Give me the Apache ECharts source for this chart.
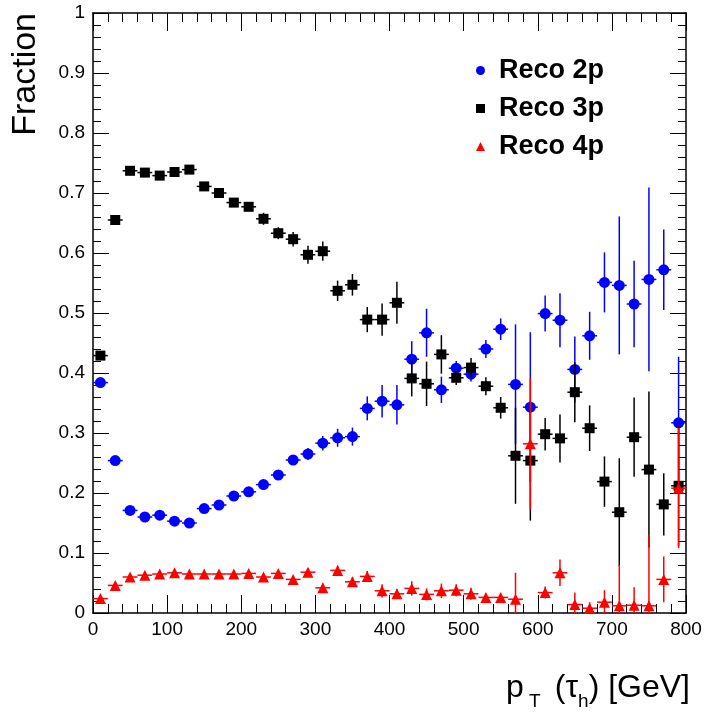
<!DOCTYPE html>
<html><head><meta charset="utf-8">
<script src="https://cdn.jsdelivr.net/npm/echarts@6/dist/echarts.min.js"></script>
<style>html,body{margin:0;padding:0;background:#fff}#c{width:709px;height:716px}</style>
</head><body><div id="c"></div>
<script>
// bin centers of p_T (GeV), bin width 20 GeV
const ptBins = [10,30,50,70,90,110,130,150,170,190,210,230,250,270,290,310,330,350,370,390,
                410,430,450,470,490,510,530,550,570,590,610,630,650,670,690,710,730,750,770,790];
const binHalfWidth = 10;

const reco2p = [0.384,0.254,0.171,0.160,0.163,0.153,0.150,0.174,0.180,0.195,0.202,0.214,0.230,0.255,0.265,0.283,0.292,0.294,0.341,0.353,
                0.347,0.423,0.467,0.372,0.408,0.398,0.440,0.473,0.381,0.343,0.499,0.488,0.406,0.462,0.551,0.546,0.515,0.556,0.572,0.317];
const reco2pErr = [0.004,0.004,0.004,0.004,0.004,0.004,0.004,0.005,0.005,0.006,0.006,0.006,0.007,0.008,0.010,0.012,0.015,0.015,0.020,0.027,
                   0.033,0.030,0.040,0.022,0.012,0.012,0.015,0.018,0.100,0.125,0.030,0.045,0.055,0.040,0.050,0.115,0.072,0.153,0.067,0.110];

const reco3p = [0.429,0.655,0.737,0.734,0.729,0.735,0.739,0.711,0.700,0.684,0.677,0.657,0.633,0.623,0.597,0.603,0.537,0.547,0.489,0.489,
                0.517,0.391,0.382,0.431,0.392,0.409,0.378,0.342,0.262,0.254,0.298,0.291,0.368,0.308,0.219,0.168,0.293,0.239,0.181,0.212];
const reco3pErr = [0.004,0.004,0.004,0.004,0.004,0.004,0.004,0.005,0.005,0.006,0.007,0.010,0.010,0.012,0.015,0.016,0.017,0.018,0.021,0.027,
                   0.035,0.030,0.037,0.032,0.012,0.016,0.015,0.018,0.080,0.100,0.027,0.040,0.050,0.038,0.042,0.090,0.066,0.130,0.052,0.100];

const reco4p = [0.024,0.046,0.060,0.063,0.065,0.067,0.065,0.065,0.065,0.065,0.066,0.060,0.066,0.056,0.068,0.042,0.071,0.052,0.061,0.037,
                0.032,0.041,0.031,0.037,0.038,0.032,0.026,0.026,0.023,0.282,0.034,0.067,0.014,0.008,0.018,0.012,0.013,0.012,0.056,0.208];
const reco4pErr = [0.003,0.003,0.003,0.003,0.003,0.003,0.003,0.003,0.003,0.004,0.004,0.004,0.004,0.005,0.006,0.007,0.008,0.008,0.009,0.011,
                   0.008,0.012,0.010,0.012,0.010,0.010,0.006,0.006,0.044,0.110,0.010,0.022,0.020,0.010,0.020,0.068,0.030,0.118,0.038,0.100];

const seriesNames = ['Reco 2p','Reco 3p','Reco 4p'];
const seriesColors = ['#0000ff','#000000','#ff0000'];

const FONT = 'Liberation Sans, Arial, Helvetica, sans-serif';

function rows(vals, errs){ return ptBins.map((x,i)=>[x, vals[i], errs[i]]); }

function errRender(color){
  return function(params, api){
    const x = api.value(0), y = api.value(1), e = api.value(2);
    const c = api.coord([x, y]);
    const lo = api.coord([x, y - e]), hi = api.coord([x, y + e]);
    const l = api.coord([x - binHalfWidth, y]), r = api.coord([x + binHalfWidth, y]);
    return {type:'group', children:[
      {type:'line', shape:{x1:c[0], y1:lo[1], x2:c[0], y2:hi[1]}, style:{stroke:color, lineWidth:1.5}},
      {type:'line', shape:{x1:l[0], y1:c[1], x2:r[0], y2:c[1]}, style:{stroke:color, lineWidth:1.5}}
    ]};
  };
}

const datasets = [[reco2p,reco2pErr,'circle',11],[reco3p,reco3pErr,'rect',10],[reco4p,reco4pErr,'triangle',11]];
const series = [];
datasets.forEach((d,k)=>{
  series.push({type:'custom', name:seriesNames[k]+' err', renderItem:errRender(seriesColors[k]), clip:true,
               data:rows(d[0],d[1]), encode:{x:0,y:1}, silent:true, z:2+k*2});
  series.push({type:'scatter', name:seriesNames[k], symbol:d[2], symbolSize:d[3], symbolKeepAspect:true,
               itemStyle:{color:seriesColors[k], opacity:1}, data:rows(d[0],d[1]).map(r=>[r[0],r[1]]), z:3+k*2});
});

const axisCommon = {
  axisLine:{show:true, onZero:false, lineStyle:{color:'#000', width:1.5}},
  axisTick:{show:true, inside:true, lineStyle:{color:'#000', width:1}},
  minorTick:{show:true, splitNumber:5, lineStyle:{color:'#000', width:1}},
  splitLine:{show:false}, minorSplitLine:{show:false}
};

const option = {
  animation:false,
  backgroundColor:'#fff',
  grid:{left:93, right:23, top:13, bottom:103},
  legend:{
    orient:'vertical', left:476, top:57, symbolKeepAspect:true,
    data:[{name:seriesNames[0], icon:'circle'},{name:seriesNames[1], icon:'rect'},{name:seriesNames[2], icon:'triangle'}],
    itemWidth:9, itemHeight:9, itemGap:11, padding:0,
    textStyle:{fontFamily:FONT, fontSize:27, fontWeight:'bold', color:'#000', lineHeight:27, padding:[0,0,0,9]}
  },
  xAxis:[
    Object.assign({type:'value', min:0, max:800, interval:100, position:'bottom',
      axisLabel:{color:'#000', fontSize:19, fontFamily:FONT, margin:7}}, axisCommon,
      {axisTick:Object.assign({}, axisCommon.axisTick, {length:18}), minorTick:Object.assign({}, axisCommon.minorTick, {length:9})}),
    Object.assign({type:'value', min:0, max:800, interval:100, position:'top',
      axisLabel:{show:false}}, axisCommon,
      {axisTick:Object.assign({}, axisCommon.axisTick, {length:18}), minorTick:Object.assign({}, axisCommon.minorTick, {length:9})})
  ],
  yAxis:[
    Object.assign({type:'value', min:0, max:1, interval:0.1, position:'left',
      axisLabel:{color:'#000', fontSize:19, fontFamily:FONT, margin:8}}, axisCommon,
      {axisTick:Object.assign({}, axisCommon.axisTick, {length:16}), minorTick:Object.assign({}, axisCommon.minorTick, {length:8})}),
    Object.assign({type:'value', min:0, max:1, interval:0.1, position:'right',
      axisLabel:{show:false}}, axisCommon,
      {axisTick:Object.assign({}, axisCommon.axisTick, {length:16}), minorTick:Object.assign({}, axisCommon.minorTick, {length:8})})
  ],
  graphic:[
    {type:'text', x:26, y:13, rotation:Math.PI/2,
     style:{text:'Fraction', align:'right', verticalAlign:'middle', font:'34px '+FONT, fill:'#000'}},
    {type:'text', x:690, y:688,
     style:{text:'{a|p}{s| T }{a| (τ}{s|h}{a|) [GeV]}', align:'right', verticalAlign:'middle', fill:'#000',
       rich:{a:{fontSize:32, fontFamily:FONT, lineHeight:46, verticalAlign:'middle'},
             s:{fontSize:19, fontFamily:FONT, lineHeight:12, verticalAlign:'bottom'}}}}
  ],
  series:series
};
const chart = echarts.init(document.getElementById('c'), null, {renderer:'canvas'});
chart.setOption(option);
</script></body></html>
